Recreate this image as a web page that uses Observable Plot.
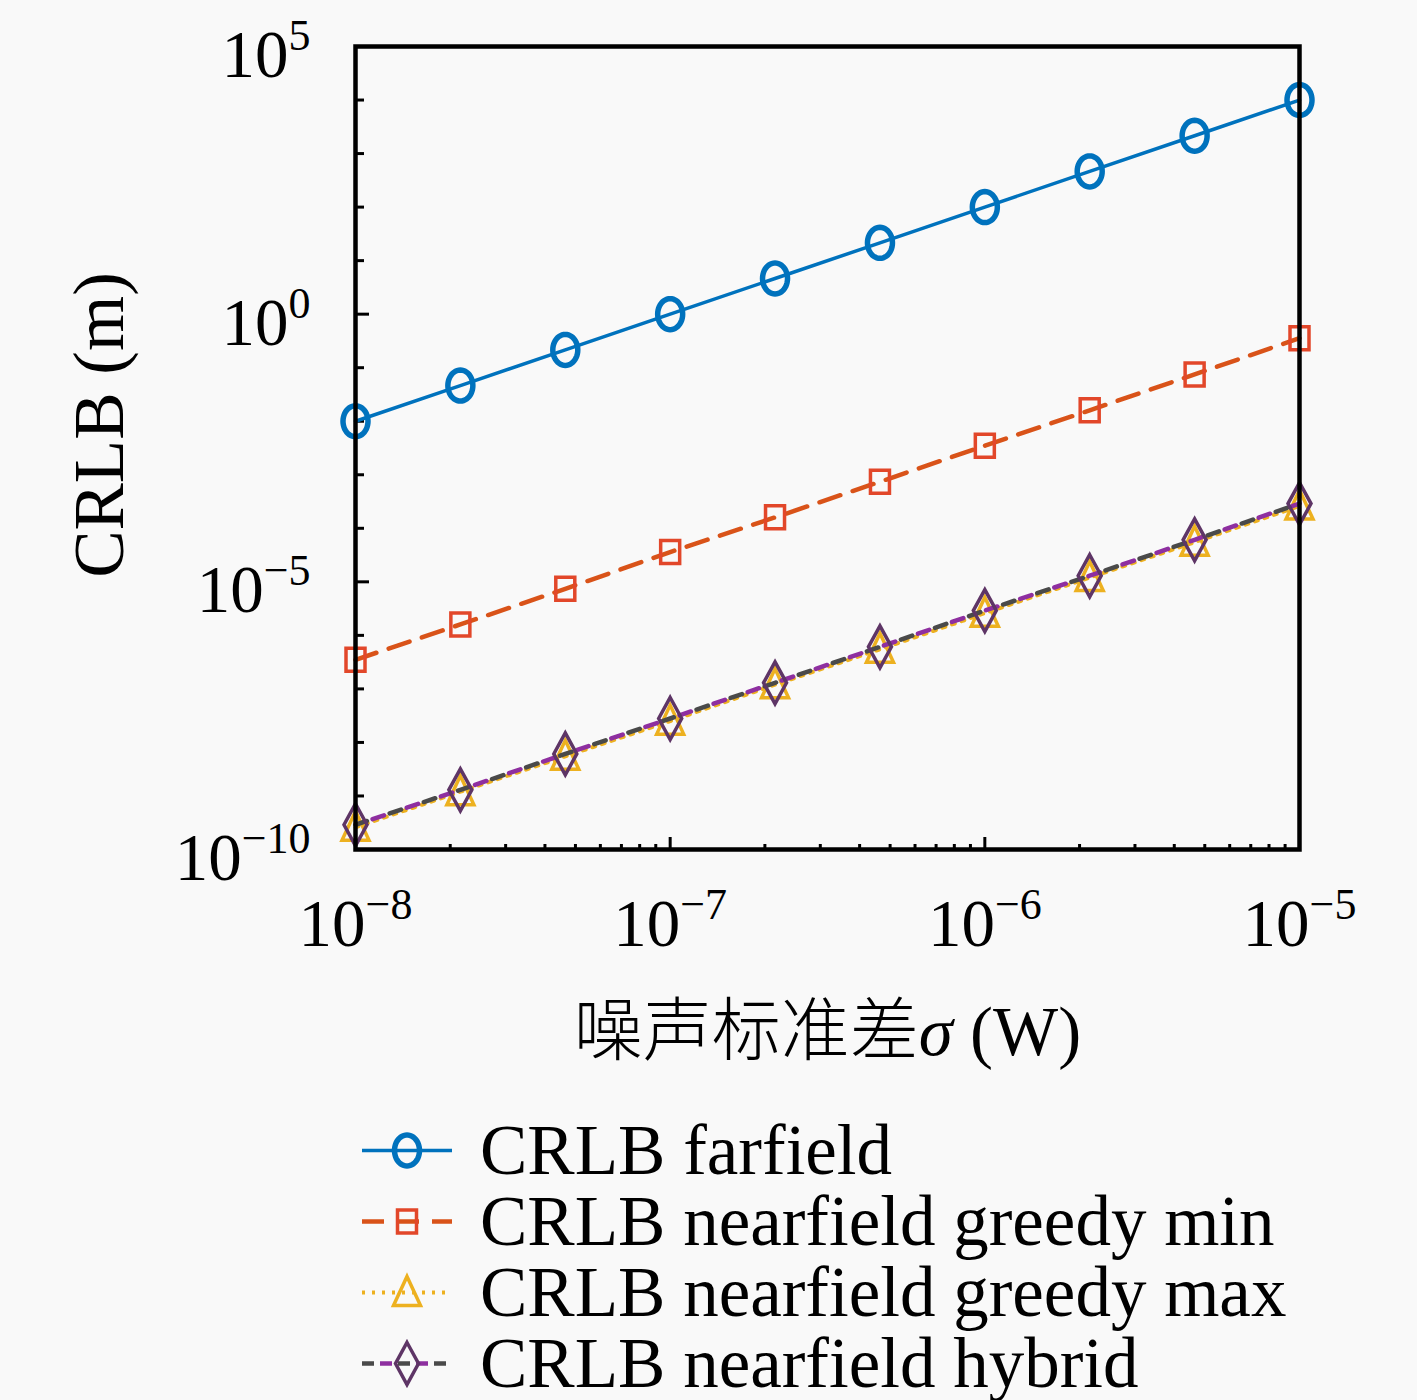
<!DOCTYPE html>
<html><head><meta charset="utf-8">
<script src="https://cdn.jsdelivr.net/npm/d3@7"></script>
<script src="https://cdn.jsdelivr.net/npm/@observablehq/plot@0.6"></script>
<style>
body{margin:0;background:#f9f9f9;}
#chart{position:absolute;left:0;top:0;}
#legend{position:absolute;left:355px;top:1115px;font-family:"Liberation Serif",serif;font-size:71px;color:#000;}
.row{height:71px;display:flex;align-items:center;white-space:nowrap;}
.row svg{width:125px;height:71px;flex:none;}
</style></head><body>
<div id="chart"></div>
<div id="legend"></div>
<script>
// ---- data ----
const sigma = [1e-8, 2.154e-8, 4.642e-8, 1e-7, 2.154e-7, 4.642e-7, 1e-6, 2.154e-6, 4.642e-6, 1e-5];
const farfield = [0.01, 0.0464, 0.215, 1.0, 4.64, 21.5, 100, 464, 2150, 10000];
const greedyMin = [3.5e-7, 1.6e-6, 7.4e-6, 3.6e-5, 1.6e-4, 7.4e-4, 3.5e-3, 0.016, 0.075, 0.355];
const greedyMax = [2.6e-10, 1.2e-9, 5.5e-9, 2.5e-8, 1.2e-7, 5.5e-7, 2.6e-6, 1.2e-5, 5.5e-5, 2.6e-4];
const hybrid = [2.9e-10, 1.3e-9, 6.1e-9, 2.8e-8, 1.3e-7, 6.1e-7, 2.9e-6, 1.3e-5, 6.1e-5, 2.9e-4];
const seriesNames = ["CRLB farfield", "CRLB nearfield greedy min", "CRLB nearfield greedy max", "CRLB nearfield hybrid"];
const xMajorTicks = [1e-8, 1e-7, 1e-6, 1e-5];
const xMinorTicks = [2e-8,3e-8,4e-8,5e-8,6e-8,7e-8,8e-8,9e-8,2e-7,3e-7,4e-7,5e-7,6e-7,7e-7,8e-7,9e-7,2e-6,3e-6,4e-6,5e-6,6e-6,7e-6,8e-6,9e-6];
const yMajorTicks = [1e-10, 1e-5, 1e0, 1e5];
const yMinorTicks = [1e-9,1e-8,1e-7,1e-6,1e-4,1e-3,1e-2,1e-1,1e1,1e2,1e3,1e4];
const xLabelCJK = "噪声标准差";
const xLabelSym = "σ";
const xLabelUnit = " (W)";
const yLabel = "CRLB (m)";

const rows = sigma.map((s, i) => ({s, ff: farfield[i], gmin: greedyMin[i], gmax: greedyMax[i], hyb: hybrid[i]}));

// ---- marker shapes (slightly tall, as in the reference) ----
function poly(ctx, pts){ pts.forEach((p,i)=> i ? ctx.lineTo(p[0],p[1]) : ctx.moveTo(p[0],p[1])); ctx.closePath(); }
const circleSym = {draw(ctx){ const pts=[]; for(let i=0;i<48;i++){const a=2*Math.PI*i/48; pts.push([12.5*Math.cos(a), 15.5*Math.sin(a)]);} poly(ctx, pts);}};
const squareSym = {draw(ctx){ poly(ctx, [[-9.5,-11.5],[9.5,-11.5],[9.5,11.5],[-9.5,11.5]]);}};
const triSym = {draw(ctx){ poly(ctx, [[0,-16],[13.5,13],[-13.5,13]]);}};
const diamondSym = {draw(ctx){ poly(ctx, [[0,-21],[11.5,0],[0,21],[-11.5,0]]);}};

const C = {ff:"#0072BD", gmin:"#D95319", gminM:"#E2472A", gmax:"#EDB120", hyb:"#8E2FA0", hybM:"#5E3566", grey:"#4a4a4a"};

const fmt = d => `10^${Math.round(Math.log10(d))}`;

const plot = Plot.plot({
  width: 1417, height: 1090,
  marginLeft: 355, marginRight: 118, marginTop: 46, marginBottom: 241,
  style: {background: "transparent", fontFamily: "'Liberation Serif', serif", color: "#000"},
  x: {type: "log", domain: [1e-8, 1e-5]},
  y: {type: "log", domain: [1e-10, 1e5]},
  marks: [
    // inward ticks
    Plot.axisY(yMinorTicks, {anchor: "right", frameAnchor: "left", tickSize: 8, strokeWidth: 3, fill: "none", label: null}),
    Plot.axisY(yMajorTicks, {anchor: "right", frameAnchor: "left", tickSize: 13, strokeWidth: 3, fill: "none", label: null}),
    Plot.axisX(xMinorTicks, {anchor: "top", frameAnchor: "bottom", tickSize: 6, strokeWidth: 3, fill: "none", label: null}),
    Plot.axisX(xMajorTicks, {anchor: "top", frameAnchor: "bottom", tickSize: 13, strokeWidth: 3, fill: "none", label: null}),
    // tick labels
    Plot.axisY(yMajorTicks, {anchor: "left", tickSize: 0, tickPadding: 45, tickFormat: fmt, fontSize: 67, dy: 9, label: null}),
    Plot.axisX(xMajorTicks, {anchor: "bottom", tickSize: 0, tickPadding: 49, tickFormat: fmt, fontSize: 67, label: null}),
    // axis labels
    Plot.text([yLabel], {frameAnchor: "left", textAnchor: "middle", dx: -255, dy: -23, rotate: -90, fontSize: 71, fill: "#000"}),
    Plot.text([xLabelCJK + xLabelSym + xLabelUnit], {frameAnchor: "bottom", textAnchor: "middle", dy: 205, fontSize: 69, fill: "#000", fontFamily: "'Liberation Serif', 'Noto Sans CJK SC', serif"}),
    // series
    Plot.line(rows, {x: "s", y: "ff", stroke: C.ff, strokeWidth: 3.5}),
    Plot.dot(rows, {x: "s", y: "ff", symbol: circleSym, stroke: C.ff, strokeWidth: 5.5, fill: "none"}),
    Plot.line(rows, {x: "s", y: "gmin", stroke: C.gmin, strokeWidth: 4.5, strokeDasharray: "22,13"}),
    Plot.dot(rows, {x: "s", y: "gmin", symbol: squareSym, stroke: C.gminM, strokeWidth: 3.5, fill: "none"}),
    Plot.line(rows, {x: "s", y: "gmax", stroke: C.gmax, strokeWidth: 4, strokeDasharray: "3,7"}),
    Plot.dot(rows, {x: "s", y: "gmax", symbol: triSym, stroke: C.gmax, strokeWidth: 3.5, fill: "none"}),
    Plot.line(rows, {x: "s", y: "hyb", stroke: C.grey, strokeWidth: 4.5, strokeDasharray: "12,24"}),
    Plot.line(rows, {x: "s", y: "hyb", stroke: C.hyb, strokeWidth: 4.5, strokeDasharray: "12,24", strokeDashoffset: -18}),
    Plot.dot(rows, {x: "s", y: "hyb", symbol: diamondSym, stroke: C.hybM, strokeWidth: 3.5, fill: "none"}),
    Plot.frame({stroke: "#000", strokeWidth: 4.5})
  ]
});

// superscript exponents and italic sigma
d3.select(plot).selectAll("text").each(function(){
  const t = this.textContent;
  const m = /^10\^(-?\d+)$/.exec(t);
  if (m) {
    this.textContent = "10";
    d3.select(this).append("tspan").attr("font-size", 44).attr("dy", -27).text(m[1].replace("-", "−"));
  } else if (t === xLabelCJK + xLabelSym + xLabelUnit) {
    this.textContent = "";
    const s = d3.select(this);
    s.append("tspan").attr("font-family", "'Noto Sans CJK SC', sans-serif").attr("font-weight", 300).text(xLabelCJK);
    s.append("tspan").attr("font-style", "italic").text(xLabelSym);
    s.append("tspan").text(xLabelUnit);
  }
});
document.getElementById("chart").append(plot);

// ---- legend ----
const legendStyles = [
  {stroke: C.ff, dash: null, sym: circleSym, ms: C.ff, mw: 5.5, w: 3.5},
  {stroke: C.gmin, dash: "22,13", sym: squareSym, ms: C.gminM, mw: 3.5, w: 4.5},
  {stroke: C.gmax, dash: "3,7", sym: triSym, ms: C.gmax, mw: 3.5, w: 4},
  {stroke: C.grey, dash: "12,24", stroke2: C.hyb, sym: diamondSym, ms: C.hybM, mw: 3.5, w: 4.5}
];
const leg = d3.select("#legend");
seriesNames.forEach((name, i) => {
  const st = legendStyles[i];
  const row = leg.append("div").attr("class", "row");
  const s = row.append("svg").attr("viewBox", "0 0 125 71");
  s.append("line").attr("x1", 7).attr("x2", 97).attr("y1", 35.5).attr("y2", 35.5)
    .attr("stroke", st.stroke).attr("stroke-width", st.w).attr("stroke-dasharray", st.dash);
  if (st.stroke2) s.append("line").attr("x1", 7).attr("x2", 97).attr("y1", 35.5).attr("y2", 35.5)
    .attr("stroke", st.stroke2).attr("stroke-width", st.w).attr("stroke-dasharray", st.dash).attr("stroke-dashoffset", -18);
  const p = d3.path(); st.sym.draw(p);
  s.append("path").attr("d", p.toString()).attr("transform", "translate(52,35.5)")
    .attr("fill", "none").attr("stroke", st.ms).attr("stroke-width", st.mw);
  row.append("span").text(name);
});
</script>
</body></html>
